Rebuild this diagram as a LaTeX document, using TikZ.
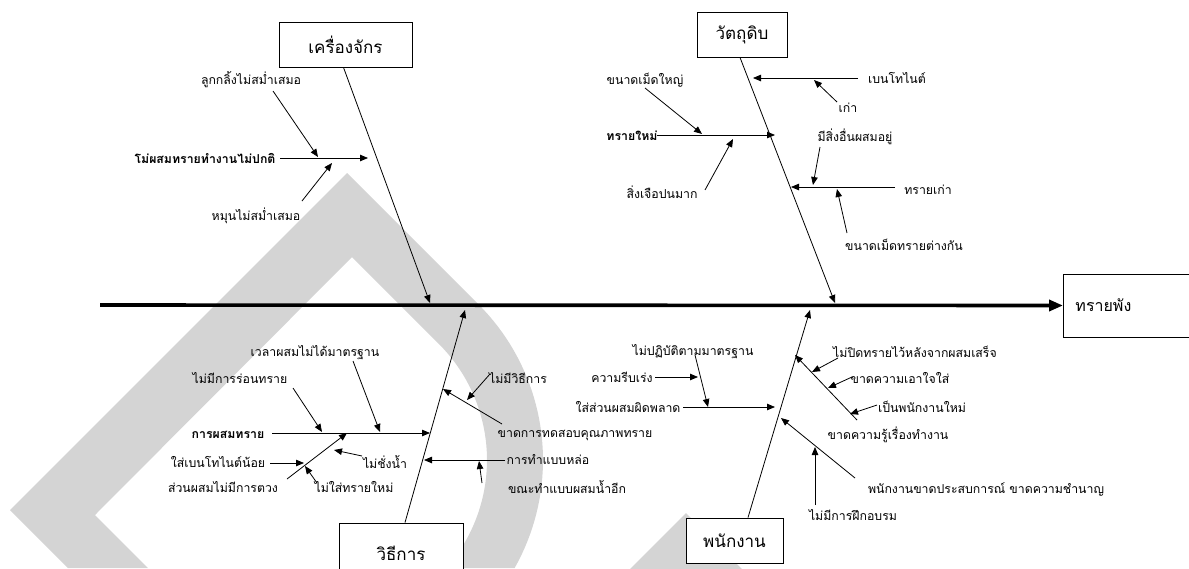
\documentclass[tikz,border=0pt]{standalone}
\usepackage{fontspec}
\setmainfont[Script=Thai]{Loma}
\usetikzlibrary{arrows.meta}
\definecolor{wm}{RGB}{212,212,212}
\begin{document}
\begin{tikzpicture}[x=1pt,y=-1pt,
  lbl/.style={inner sep=1pt, font=\fontsize{12.3}{14}\selectfont},
  blbl/.style={inner sep=1pt, font=\fontsize{12.3}{14}\selectfont\bfseries},
  cat/.style={draw, line width=0.9pt, fill=white, inner sep=0pt, font=\fontsize{17}{20}\selectfont},
  arr/.style={line width=0.8pt, -{Triangle[length=8pt,width=6.5pt]}},
  ln/.style={line width=0.8pt}]
\useasboundingbox (0,0) rectangle (1189,568);
% watermark
\fill[wm] (68,568) -- (10,510) -- (347,173) -- (478.6,304.4)
  -- plot[domain=-45:29.4, samples=40] ({323+220*cos(\x)},{460+220*sin(\x)})
  -- (446.4,568)
  -- plot[domain=41.2:-45, samples=40] ({323+164*cos(\x)},{460+164*sin(\x)})
  -- (352,257) -- (95,515) -- (148,568) -- cycle;
\fill[wm] (686,513) -- (624,575) -- (748,575) -- cycle;

% head and spine
\node[draw, line width=0.9pt, minimum width=132pt, minimum height=63pt, anchor=west,
  text width=108pt, inner xsep=12pt, align=left, font=\fontsize{16}{18}\selectfont] (head) at (1063,305.5) {ทรายพัง};
\coordinate (tail) at (100,305);
\draw[line width=3.6pt, -{Triangle[length=14pt,width=11pt]}] (tail) -- (head.west);

% category boxes
\node[cat, minimum width=133pt, minimum height=45pt] (m) at (345.5,44.5) {เครื่องจักร};
\node[cat, minimum width=90pt, minimum height=45pt] (r) at (742,34.5) {วัตถุดิบ};
\node[cat, minimum width=124pt, minimum height=60pt] (w) at (401,553) {วิธีการ};
\node[cat, minimum width=97pt, minimum height=45pt] (p) at (734.5,540.5) {พนักงาน};

% joints on spine
\coordinate (mJ) at (430,303);
\coordinate (rJ) at (835,303);
\coordinate (wJ) at (465,310);
\coordinate (pJ) at (810,310);
\draw[arr] ([xshift=-2pt]m.south) -- (mJ);
\draw[arr] ([xshift=-2pt]r.south) -- (rJ);
\draw[arr] ([xshift=4pt]w.north) -- (wJ);
\draw[arr] ([xshift=13.5pt]p.north) -- (pJ);

% ---- machine
\node[lbl]  (m1) at (251,80)  {ลูกกลิ้งไม่สม่ำเสมอ};
\node[blbl] (m2) at (205,158) {โม่ผสมทรายทำงานไม่ปกติ};
\node[lbl]  (m3) at (256,216) {หมุนไม่สม่ำเสมอ};
\coordinate (m2a) at (280,158); \coordinate (m2b) at (368,158);
\draw[arr] (m2a) -- (m2b);
\coordinate (m1a) at (273,91);  \coordinate (m1b) at (318,157);
\draw[arr] (m1a) -- (m1b);
\coordinate (m3a) at (302,201); \coordinate (m3b) at (332,163);
\draw[arr] (m3a) -- (m3b);

% ---- raw material
\node[lbl]  (r1) at (645,80)  {ขนาดเม็ดใหญ่};
\node[blbl] (r2) at (632,136) {ทรายใหม่};
\node[lbl]  (r3) at (662,192) {สิ่งเจือปนมาก};
\node[lbl]  (r4) at (897,78)  {เบนโทไนต์};
\node[lbl]  (r5) at (848,108) {เก่า};
\node[lbl]  (r6) at (855,137) {มีสิ่งอื่นผสมอยู่};
\node[lbl]  (r7) at (928,190) {ทรายเก่า};
\node[lbl]  (r8) at (904,245) {ขนาดเม็ดทรายต่างกัน};
\coordinate (r2a) at (657,135); \coordinate (r2b) at (775,135);
\draw[arr] (r2a) -- (r2b);
\coordinate (r1a) at (645,88);  \coordinate (r1b) at (702,134);
\draw[arr] (r1a) -- (r1b);
\coordinate (r3a) at (705,190); \coordinate (r3b) at (733,139);
\draw[arr] (r3a) -- (r3b);
\coordinate (r4a) at (858,78);  \coordinate (r4b) at (753,78);
\draw[arr] (r4a) -- (r4b);
\coordinate (r5a) at (837,102); \coordinate (r5b) at (814,80);
\draw[arr] (r5a) -- (r5b);
\coordinate (r6a) at (820,147); \coordinate (r6b) at (813,185);
\draw[arr] (r6a) -- (r6b);
\coordinate (r7a) at (895,187); \coordinate (r7b) at (791,187);
\draw[arr] (r7a) -- (r7b);
\coordinate (r8a) at (847,233); \coordinate (r8b) at (837,189);
\draw[arr] (r8a) -- (r8b);

% ---- method
\node[lbl]  (w1) at (315,353) {เวลาผสมไม่ได้มาตรฐาน};
\node[lbl]  (w2) at (240,378) {ไม่มีการร่อนทราย};
\node[blbl] (w3) at (228,435) {การผสมทราย};
\node[lbl]  (w4) at (218,462) {ใส่เบนโทไนต์น้อย};
\node[lbl]  (w5) at (223,487) {ส่วนผสมไม่มีการตวง};
\node[lbl]  (w6) at (385,462) {ไม่ชั่งน้ำ};
\node[lbl]  (w7) at (354,487) {ไม่ใส่ทรายใหม่};
\node[lbl]  (w8) at (518,378) {ไม่มีวิธีการ};
\node[lbl]  (w9) at (575,435) {ขาดการทดสอบคุณภาพทราย};
\node[lbl]  (w10) at (548,460) {การทำแบบหล่อ};
\node[lbl]  (w11) at (567,487) {ขณะทำแบบผสมน้ำอีก};
\coordinate (w3a) at (272,433); \coordinate (w3b) at (430,433);
\draw[arr] (w3a) -- (w3b);
\coordinate (w2a) at (293,388); \coordinate (w2b) at (322,432);
\draw[arr] (w2a) -- (w2b);
\coordinate (w1a) at (353,361); \coordinate (w1b) at (380,432);
\draw[arr] (w1a) -- (w1b);
\coordinate (w5a) at (287,479); \coordinate (w5b) at (347,433);
\draw[arr] (w5a) -- (w5b);
\coordinate (w4a) at (270,463); \coordinate (w4b) at (304,463);
\draw[arr] (w4a) -- (w4b);
\coordinate (w7a) at (317,483); \coordinate (w7b) at (305,466);
\draw[arr] (w7a) -- (w7b);
\coordinate (w6a) at (362,456); \coordinate (w6b) at (334,450);
\draw[arr] (w6a) -- (w6b);
\coordinate (w9a) at (502,424); \coordinate (w9b) at (443,389);
\draw[arr] (w9a) -- (w9b);
\coordinate (w8a) at (490,374); \coordinate (w8b) at (467,400);
\draw[arr] (w8a) -- (w8b);
\coordinate (w10a) at (505,460); \coordinate (w10b) at (424,460);
\draw[arr] (w10a) -- (w10b);
\coordinate (w11a) at (482,483); \coordinate (w11b) at (479,461);
\draw[arr] (w11a) -- (w11b);

% ---- staff
\node[lbl] (p1) at (693,352) {ไม่ปฏิบัติตามมาตรฐาน};
\node[lbl] (p2) at (622,377) {ความรีบเร่ง};
\node[lbl] (p3) at (628,407) {ใส่ส่วนผสมผิดพลาด};
\node[lbl] (p4) at (915,352) {ไม่ปิดทรายไว้หลังจากผสมเสร็จ};
\node[lbl] (p5) at (900,378) {ขาดความเอาใจใส่};
\node[lbl] (p6) at (922,407) {เป็นพนักงานใหม่};
\node[lbl] (p7) at (888,435) {ขาดความรู้เรื่องทำงาน};
\node[lbl] (p8) at (986,489) {พนักงานขาดประสบการณ์ ขาดความชำนาญ};
\node[lbl] (p9) at (853,515) {ไม่มีการฝึกอบรม};
\coordinate (p3a) at (683,407); \coordinate (p3b) at (775,407);
\draw[arr] (p3a) -- (p3b);
\coordinate (p2a) at (655,377); \coordinate (p2b) at (698,377);
\draw[arr] (p2a) -- (p2b);
\coordinate (p1a) at (695,355); \coordinate (p1b) at (708,407);
\draw[arr] (p1a) -- (p1b);
\coordinate (p7a) at (857,420); \coordinate (p7b) at (795,355);
\draw[arr] (p7a) -- (p7b);
\coordinate (p4a) at (838,358); \coordinate (p4b) at (812,372);
\draw[arr] (p4a) -- (p4b);
\coordinate (p5a) at (852,377); \coordinate (p5b) at (828,388);
\draw[arr] (p5a) -- (p5b);
\coordinate (p6a) at (877,405); \coordinate (p6b) at (850,414);
\draw[arr] (p6a) -- (p6b);
\coordinate (p8a) at (855,478); \coordinate (p8b) at (781,418);
\draw[arr] (p8a) -- (p8b);
\coordinate (p9a) at (815,505); \coordinate (p9b) at (815,447);
\draw[arr] (p9a) -- (p9b);
\end{tikzpicture}
\end{document}
